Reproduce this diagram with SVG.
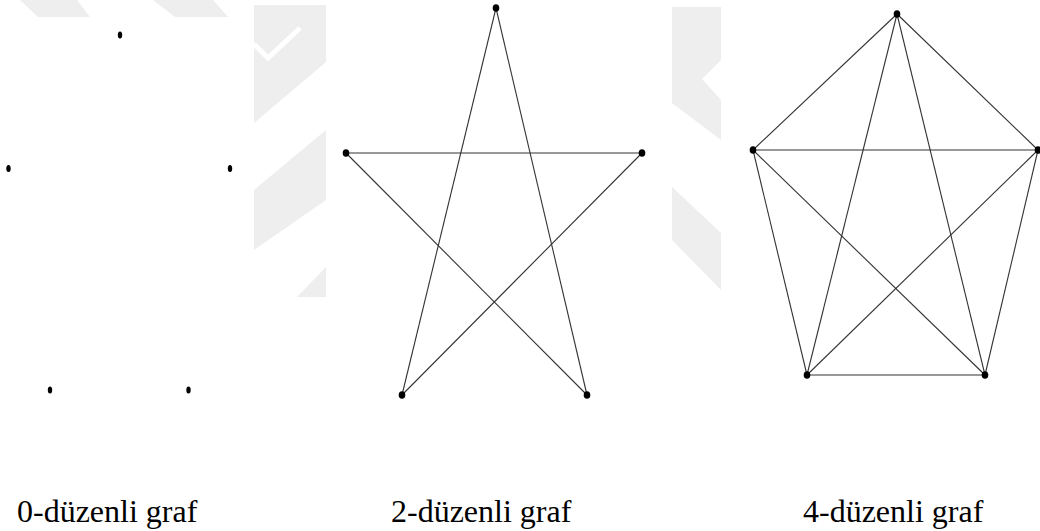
<svg xmlns="http://www.w3.org/2000/svg" width="1040" height="531" viewBox="0 0 1040 531">
<style>
.wm{fill:#eeeeee}
.e{stroke:#333;stroke-width:1.1;fill:none}
.v{fill:#000}
.lbl{font-family:"Liberation Serif","Times New Roman",serif;font-size:32px;fill:#000}
</style>
<rect width="1040" height="531" fill="#fff"/>
<g id="watermark">
<polygon class="wm" points="20,0 77,0 90,17 38,17"/>
<polygon class="wm" points="153,0 213,0 228,17 175,17"/>
<polygon class="wm" points="254,5 326,5 326,62 254,123"/>
<polyline points="254,44 268,58 300,28" fill="none" stroke="#fff" stroke-width="5"/>
<polygon class="wm" points="326,130 326,200 254,250 254,190"/>
<polygon class="wm" points="326,267 326,297 297,297"/>
<polygon class="wm" points="672,7 721,7 721,60 702,79 721,100 721,140 672,103"/>
<polygon class="wm" points="672,187 721,233 721,290 672,240"/>
</g>
<g id="connectors">
<line class="e" x1="496" y1="8" x2="402" y2="395"/>
<line class="e" x1="496" y1="8" x2="587" y2="395"/>
<line class="e" x1="346" y1="153" x2="642" y2="153"/>
<line class="e" x1="346" y1="153" x2="587" y2="395"/>
<line class="e" x1="642" y1="153" x2="402" y2="395"/>
<line class="e" x1="897" y1="14" x2="753" y2="150"/>
<line class="e" x1="897" y1="14" x2="1038" y2="150"/>
<line class="e" x1="897" y1="14" x2="807" y2="375"/>
<line class="e" x1="897" y1="14" x2="985" y2="375"/>
<line class="e" x1="753" y1="150" x2="1038" y2="150"/>
<line class="e" x1="753" y1="150" x2="807" y2="375"/>
<line class="e" x1="753" y1="150" x2="985" y2="375"/>
<line class="e" x1="1038" y1="150" x2="807" y2="375"/>
<line class="e" x1="1038" y1="150" x2="985" y2="375"/>
<line class="e" x1="807" y1="375" x2="985" y2="375"/>
</g>
<g id="g0">
<ellipse id="g0-a" class="v" cx="120" cy="35" rx="2.2" ry="3.5"/>
<ellipse id="g0-b" class="v" cx="8.5" cy="168.5" rx="2.2" ry="3.5"/>
<ellipse id="g0-c" class="v" cx="230" cy="168.5" rx="2.2" ry="3.5"/>
<ellipse id="g0-d" class="v" cx="50" cy="390" rx="2.2" ry="3.5"/>
<ellipse id="g0-e" class="v" cx="188.5" cy="390" rx="2.2" ry="3.5"/>
<text class="lbl" x="17" y="522">0-düzenli graf</text>
</g>
<g id="g2">
<ellipse id="g2-a" class="v" cx="496" cy="8" rx="3.3" ry="3.8"/>
<ellipse id="g2-b" class="v" cx="346" cy="153" rx="3.3" ry="3.8"/>
<ellipse id="g2-c" class="v" cx="642" cy="153" rx="3.3" ry="3.8"/>
<ellipse id="g2-d" class="v" cx="402" cy="395" rx="3.3" ry="3.8"/>
<ellipse id="g2-e" class="v" cx="587" cy="395" rx="3.3" ry="3.8"/>
<text class="lbl" x="391" y="522">2-düzenli graf</text>
</g>
<g id="g4">
<ellipse id="g4-a" class="v" cx="897" cy="14" rx="3.3" ry="3.8"/>
<ellipse id="g4-b" class="v" cx="753" cy="150" rx="3.3" ry="3.8"/>
<ellipse id="g4-c" class="v" cx="1038" cy="150" rx="3.3" ry="3.8"/>
<ellipse id="g4-d" class="v" cx="807" cy="375" rx="3.3" ry="3.8"/>
<ellipse id="g4-e" class="v" cx="985" cy="375" rx="3.3" ry="3.8"/>
<text class="lbl" x="803" y="522">4-düzenli graf</text>
</g>
</svg>
